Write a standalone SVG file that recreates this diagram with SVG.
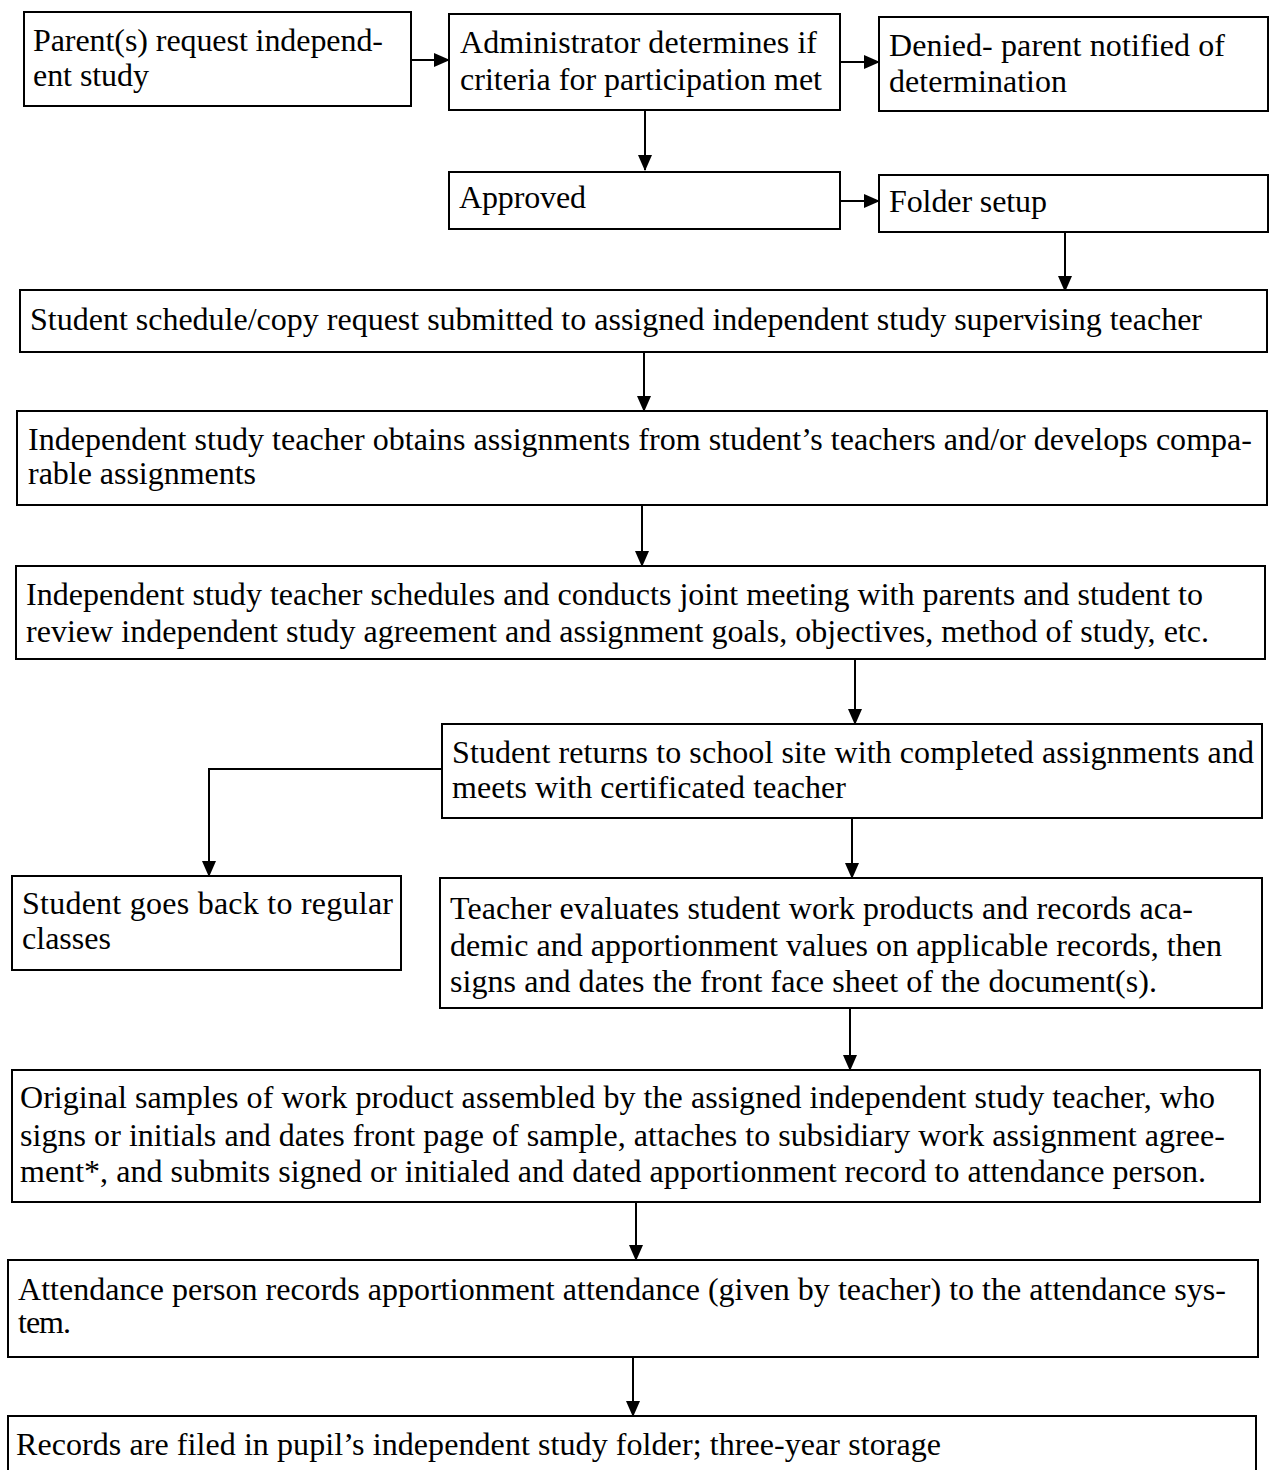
<svg xmlns="http://www.w3.org/2000/svg" width="1269" height="1470" viewBox="0 0 1269 1470">
<style>
.box{fill:#fff;stroke:#000;stroke-width:2}
.t{font-family:"Liberation Serif","Times New Roman",serif;font-size:32px;fill:#000}
.c{fill:none;stroke:#000;stroke-width:2}
</style>
<defs>
<marker id="ah" markerUnits="userSpaceOnUse" markerWidth="16" markerHeight="14" refX="15" refY="7" orient="auto">
<path d="M0,0 L16,7 L0,14 z" fill="#000"/>
</marker>
</defs>
<rect width="1269" height="1470" fill="#fff"/>
<g id="connectors">
<line class="c" x1="411" y1="60" x2="449" y2="60" marker-end="url(#ah)"/>
<line class="c" x1="840" y1="62" x2="879" y2="62" marker-end="url(#ah)"/>
<line class="c" x1="645" y1="110" x2="645" y2="170" marker-end="url(#ah)"/>
<line class="c" x1="840" y1="201" x2="879" y2="201" marker-end="url(#ah)"/>
<line class="c" x1="1065" y1="232" x2="1065" y2="291" marker-end="url(#ah)"/>
<line class="c" x1="644" y1="352" x2="644" y2="411" marker-end="url(#ah)"/>
<line class="c" x1="642" y1="505" x2="642" y2="566" marker-end="url(#ah)"/>
<line class="c" x1="855" y1="659" x2="855" y2="724" marker-end="url(#ah)"/>
<polyline class="c" points="442,769 209,769 209,876" marker-end="url(#ah)"/>
<line class="c" x1="852" y1="818" x2="852" y2="878" marker-end="url(#ah)"/>
<line class="c" x1="850" y1="1008" x2="850" y2="1070" marker-end="url(#ah)"/>
<line class="c" x1="636" y1="1202" x2="636" y2="1260" marker-end="url(#ah)"/>
<line class="c" x1="633" y1="1357" x2="633" y2="1416" marker-end="url(#ah)"/>
</g>
<g id="n1"><rect class="box" x="24" y="12" width="387" height="94"/>
<text class="t" x="33" y="51" textLength="350" lengthAdjust="spacing">Parent(s) request independ-</text>
<text class="t" x="33" y="86" textLength="116" lengthAdjust="spacing">ent study</text></g>
<g id="n2"><rect class="box" x="449" y="14" width="391" height="96"/>
<text class="t" x="460" y="53" textLength="357" lengthAdjust="spacing">Administrator determines if</text>
<text class="t" x="460" y="90" textLength="362" lengthAdjust="spacing">criteria for participation met</text></g>
<g id="n3"><rect class="box" x="879" y="17" width="389" height="94"/>
<text class="t" x="889" y="56" textLength="336" lengthAdjust="spacing">Denied- parent notified of</text>
<text class="t" x="889" y="92" textLength="178" lengthAdjust="spacing">determination</text></g>
<g id="n4"><rect class="box" x="449" y="172" width="391" height="57"/>
<text class="t" x="459" y="208" textLength="127" lengthAdjust="spacing">Approved</text></g>
<g id="n5"><rect class="box" x="879" y="175" width="389" height="57"/>
<text class="t" x="889" y="212" textLength="158" lengthAdjust="spacing">Folder setup</text></g>
<g id="n6"><rect class="box" x="20" y="290" width="1247" height="62"/>
<text class="t" x="30" y="330" textLength="1172" lengthAdjust="spacing">Student schedule/copy request submitted to assigned independent study supervising teacher</text></g>
<g id="n7"><rect class="box" x="17" y="411" width="1250" height="94"/>
<text class="t" x="28" y="450" textLength="1224" lengthAdjust="spacing">Independent study teacher obtains assignments from student’s teachers and/or develops compa-</text>
<text class="t" x="28" y="484" textLength="228" lengthAdjust="spacing">rable assignments</text></g>
<g id="n8"><rect class="box" x="16" y="566" width="1249" height="93"/>
<text class="t" x="26" y="605" textLength="1177" lengthAdjust="spacing">Independent study teacher schedules and conducts joint meeting with parents and student to</text>
<text class="t" x="26" y="642" textLength="1183" lengthAdjust="spacing">review independent study agreement and assignment goals, objectives, method of study, etc.</text></g>
<g id="n9"><rect class="box" x="442" y="724" width="820" height="94"/>
<text class="t" x="452" y="763" textLength="802" lengthAdjust="spacing">Student returns to school site with completed assignments and</text>
<text class="t" x="452" y="798" textLength="394" lengthAdjust="spacing">meets with certificated teacher</text></g>
<g id="n10"><rect class="box" x="12" y="876" width="389" height="94"/>
<text class="t" x="22" y="914" textLength="371" lengthAdjust="spacing">Student goes back to regular</text>
<text class="t" x="22" y="949" textLength="89" lengthAdjust="spacing">classes</text></g>
<g id="n11"><rect class="box" x="440" y="878" width="822" height="130"/>
<text class="t" x="450" y="919" textLength="743" lengthAdjust="spacing">Teacher evaluates student work products and records aca-</text>
<text class="t" x="450" y="956" textLength="772" lengthAdjust="spacing">demic and apportionment values on applicable records, then</text>
<text class="t" x="450" y="992" textLength="707" lengthAdjust="spacing">signs and dates the front face sheet of the document(s).</text></g>
<g id="n12"><rect class="box" x="12" y="1070" width="1248" height="132"/>
<text class="t" x="20" y="1108" textLength="1195" lengthAdjust="spacing">Original samples of work product assembled by the assigned independent study teacher, who</text>
<text class="t" x="20" y="1146" textLength="1205" lengthAdjust="spacing">signs or initials and dates front page of sample, attaches to subsidiary work assignment agree-</text>
<text class="t" x="20" y="1182" textLength="1186" lengthAdjust="spacing">ment*, and submits signed or initialed and dated apportionment record to attendance person.</text></g>
<g id="n13"><rect class="box" x="8" y="1260" width="1250" height="97"/>
<text class="t" x="18" y="1300" textLength="1208" lengthAdjust="spacing">Attendance person records apportionment attendance (given by teacher) to the attendance sys-</text>
<text class="t" x="18" y="1333" textLength="53" lengthAdjust="spacing">tem.</text></g>
<g id="n14"><rect class="box" x="8" y="1416" width="1248" height="70"/>
<text class="t" x="16" y="1455" textLength="925" lengthAdjust="spacing">Records are filed in pupil’s independent study folder; three-year storage</text></g>
</svg>
